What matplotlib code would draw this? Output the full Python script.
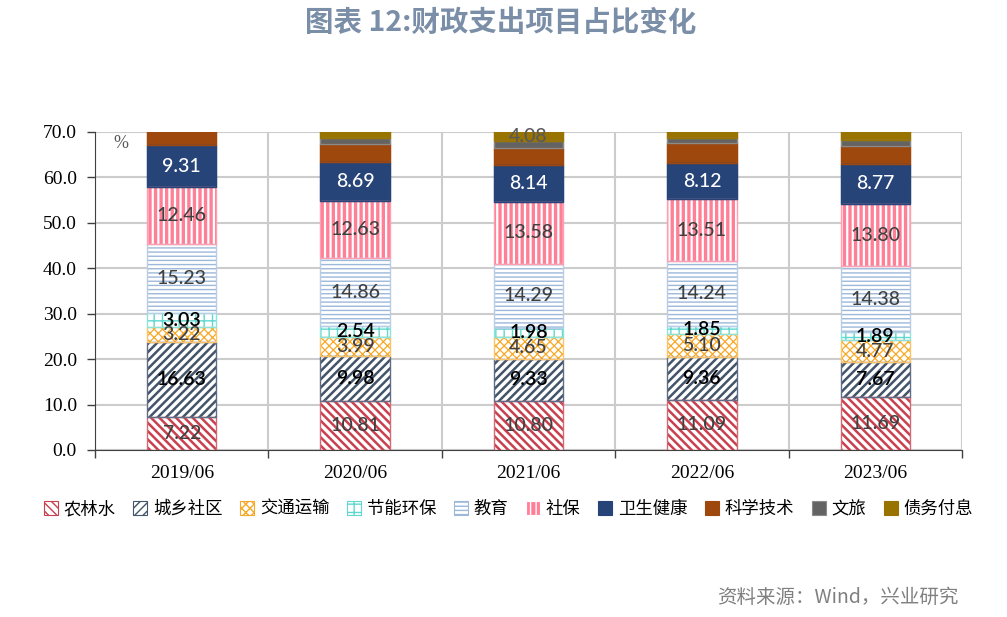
import matplotlib
matplotlib.use("Agg")
import matplotlib.pyplot as plt
import numpy as np
from matplotlib.patches import Patch

plt.rcParams['font.family'] = ['Noto Sans CJK SC', 'DejaVu Sans']

categories = ["2019/06", "2020/06", "2021/06", "2022/06", "2023/06"]
series_names = ["农林水", "城乡社区", "交通运输", "节能环保", "教育", "社保",
                "卫生健康", "科学技术", "文旅", "债务付息"]
nonglinshui = [7.22, 10.81, 10.80, 11.09, 11.69]
chengxiang = [16.63, 9.98, 9.33, 9.36, 7.67]
jiaotong = [3.22, 3.99, 4.65, 5.10, 4.77]
jieneng = [3.03, 2.54, 1.98, 1.85, 1.89]
jiaoyu = [15.23, 14.86, 14.29, 14.24, 14.38]
shebao = [12.46, 12.63, 13.58, 13.51, 13.80]
weisheng = [9.31, 8.69, 8.14, 8.12, 8.77]
keji = [3.4, 3.8, 3.8, 4.2, 3.9]
wenlv = [1.4, 1.4, 1.45, 1.3, 1.3]
zhaiwu = [3.0, 3.5, 4.08, 4.2, 4.5]
values = [nonglinshui, chengxiang, jiaotong, jieneng, jiaoyu, shebao,
          weisheng, keji, wenlv, zhaiwu]
# which series / points carry a data label
label_flags = [[True]*5]*7 + [[False]*5, [False]*5, [False, False, True, False, False]]

# style: (face, hatch, hatchcolor/edge, hatch lw, label color, weight)
styles = [
    ("white", "\\\\\\\\", "#c9404f", 1.8, "#404040", "medium"),
    ("white", "////", "#44546a", 1.8, "#000000", "semibold"),
    ("white", "xxxx", "#f9a825", 0.9, "#404040", "medium"),
    ("white", "++", "#5fd8cf", 1.0, "#000000", "semibold"),
    ("white", "----", "#9db8d9", 1.0, "#404040", "medium"),
    ("#ff7f96", "|||", "white", 1.6, "#404040", "medium"),
    ("#264478", None, "#264478", 1.0, "white", "medium"),
    ("#9e480e", None, "#9e480e", 1.0, "#404040", "medium"),
    ("#636363", None, "#636363", 1.0, "#404040", "medium"),
    ("#997300", None, "#997300", 1.0, "#595959", "medium"),
]
outline = ["#d26a76", "#5f6d86", "#fbc36a", "#8ae5de", "#b9cde6", "#ff9fb1",
           "#264478", "#9e480e", "#8a8a8a", "#997300"]

fig = plt.figure(figsize=(10.07, 6.17), dpi=100)
ax = fig.add_axes([95/1007, 1-450/617, (962-95)/1007, (450-132)/617])

x = np.arange(len(categories))
width = 0.4
bottom = np.zeros(len(categories))
for i, (vals, st) in enumerate(zip(values, styles)):
    face, hatch, hc, hlw, lc, wt = st
    with plt.rc_context({'hatch.linewidth': hlw}):
        bars = ax.bar(x, vals, width, bottom=bottom, color=face,
                      edgecolor=hc, hatch=hatch, linewidth=0 if hatch else 0.8, zorder=3)
        for b in bars:
            if hasattr(b, "set_hatch_linewidth"):
                b.set_hatch_linewidth(hlw)
    ax.bar(x, vals, width, bottom=bottom, fill=False, edgecolor=outline[i],
           linewidth=1.0, zorder=4)
    for j, v in enumerate(vals):
        if label_flags[i][j]:
            top = min(bottom[j] + v, 70.0)
            yc = (bottom[j] + top) / 2
            ax.text(x[j], yc, f"{v:.2f}", ha="center", va="center",
                    fontsize=14, color=lc, family=["Lato", "DejaVu Sans"],
                    fontweight=wt, zorder=6)
    bottom += np.array(vals)

ax.set_ylim(0, 70)
ax.set_xlim(-0.5, len(categories) - 0.5)
ax.set_yticks(np.arange(0, 71, 10))
ax.set_yticklabels([f"{t:.1f}" for t in np.arange(0, 71, 10)],
                   family=["Liberation Serif"], fontsize=14)
ax.set_xticks(x)
ax.set_xticklabels(categories, family=["Liberation Serif"], fontsize=14)
ax.set_xticks(np.arange(-0.5, len(categories)), minor=True)
ax.tick_params(axis="x", which="major", length=0, pad=11)
ax.tick_params(axis="x", which="minor", length=6, width=1, color="#404040")
ax.tick_params(axis="y", which="major", length=6, width=1, color="#404040", pad=7)
ax.grid(axis="y", color="#cccccc", linewidth=1.5, zorder=0)
ax.grid(axis="x", which="minor", color="#cccccc", linewidth=1.5, zorder=0)
for s in ["top", "right"]:
    ax.spines[s].set_visible(False)
ax.spines["left"].set_color("#404040")
ax.spines["bottom"].set_color("#404040")
ax.spines["left"].set_zorder(5)
ax.spines["bottom"].set_zorder(5)

ax.text(0.03, 0.99, "%", transform=ax.transAxes, ha="center", va="top",
        fontsize=13, color="#595959", family=["Liberation Serif"])

fig.text(0.497, 0.962, "图表 12:财政支出项目占比变化", ha="center", va="center",
         fontsize=20.5, fontweight="bold", color="#7a8ea8")
fig.text(0.952, 0.032, "资料来源：Wind，兴业研究", ha="right", va="center",
         fontsize=14, color="#808080", fontweight="medium")

handles = []
for st, oc in zip(styles, outline):
    face, hatch, hc, hlw, lc, wt = st
    handles.append(Patch(facecolor=face, edgecolor=hc if hatch else oc,
                         hatch=hatch, linewidth=0.8))
leg = fig.legend(handles, series_names, loc="center", ncol=10,
                 bbox_to_anchor=(0.505, 0.175), frameon=False,
                 fontsize=12.5, handlelength=0.8, handleheight=0.8,
                 handletextpad=0.35, columnspacing=1.0)

fig.savefig("out.png", dpi=100)
